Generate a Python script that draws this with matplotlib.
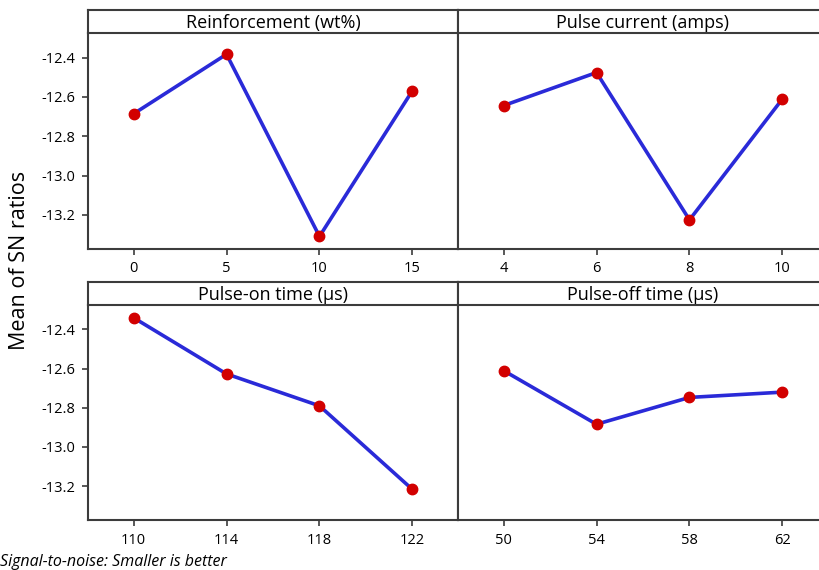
import matplotlib
matplotlib.use("Agg")
import matplotlib.pyplot as plt

# main effects of SN ratios
titles = ["Reinforcement (wt%)", "Pulse current (amps)", "Pulse-on time (\u00b5s)", "Pulse-off time (\u00b5s)"]
levels_reinf = ["0", "5", "10", "15"]
levels_current = ["4", "6", "8", "10"]
levels_on = ["110", "114", "118", "122"]
levels_off = ["50", "54", "58", "62"]
sn_reinf = [-12.686, -12.383, -13.309, -12.568]
sn_current = [-12.644, -12.476, -13.225, -12.610]
sn_on = [-12.340, -12.627, -12.790, -13.217]
sn_off = [-12.610, -12.884, -12.747, -12.720]
yticks = [-12.4, -12.6, -12.8, -13.0, -13.2]

plt.rcParams['font.family'] = ['Open Sans', 'DejaVu Sans']
plt.rcParams['axes.unicode_minus'] = False

W, H = 820, 570
fig = plt.figure(figsize=(W / 100, H / 100), dpi=100)

spine_col = '#3c3c3c'
panels = [
    (88, 33, 249, titles[0], levels_reinf, sn_reinf, True),
    (458, 33, 249, titles[1], levels_current, sn_current, False),
    (88, 305, 520, titles[2], levels_on, sn_on, True),
    (458, 305, 520, titles[3], levels_off, sn_off, False),
]

for x0, top, bot, title, levels, vals, show_y in panels:
    ax = fig.add_axes([x0 / W, 1 - bot / H, 370 / W, (bot - top) / H])
    xs = range(len(levels))
    ax.plot(xs, vals, color='#2a2ad8', lw=2.6, zorder=2)
    ax.plot(xs, vals, 'o', color='#d20000', ms=7.5, zorder=3)
    ax.set_xlim(-0.49, 3.49)
    ax.set_ylim(-13.373, -12.275)
    ax.set_xticks(list(xs))
    ax.set_xticklabels(levels)
    ax.set_yticks(yticks)
    if show_y:
        ax.set_yticklabels(["%.1f" % v for v in yticks])
    else:
        ax.tick_params(axis='y', left=False, labelleft=False)
    ax.tick_params(axis='both', direction='out', length=4, width=1.2,
                   color=spine_col, labelsize=10.5, pad=5)
    for s in ax.spines.values():
        s.set_color(spine_col)
        s.set_linewidth(1.5)
    ax.spines['top'].set_visible(False)

    # header strip
    sx = fig.add_axes([x0 / W, 1 - top / H, 370 / W, 23 / H])
    sx.set_xticks([])
    sx.set_yticks([])
    for s in sx.spines.values():
        s.set_color(spine_col)
        s.set_linewidth(1.5)
    sx.text(0.5, 0.45, title, ha='center', va='center', fontsize=13,
            transform=sx.transAxes)

fig.text(20 / W, 1 - 260 / H, "Mean of SN ratios", rotation=90,
         ha='center', va='center', fontsize=15.5)
fig.text(0.5 / W, 1 - 562 / H, "Signal-to-noise: Smaller is better",
         ha='left', va='center', fontsize=11.5, style='italic')

fig.savefig("out.png", dpi=100)
